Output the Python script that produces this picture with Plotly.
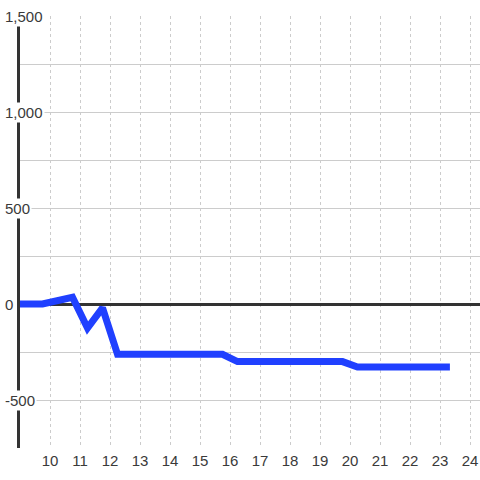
import plotly.graph_objects as go

# Data
x_vals = [9, 9.75, 10.75, 11.25, 11.75, 12.25, 15.75, 16.25, 19.75, 20.25, 23.33]
y_vals = [0, 0, 35, -125, -20, -262, -262, -300, -300, -328, -328]

y_label_vals = [1500, 1000, 500, 0, -500]
y_label_text = ["1,500", "1,000", "500", "0", "-500"]
x_tick_vals = list(range(10, 25))

FONT = "Liberation Sans, Arial, sans-serif"
TXT = "#3a3a3a"

fig = go.Figure()
fig.add_trace(go.Scatter(
    x=x_vals, y=y_vals, mode="lines",
    line=dict(color="#2040ff", width=7),
    hoverinfo="skip", showlegend=False,
))

annotations = []
for v, t in zip(y_label_vals, y_label_text):
    annotations.append(dict(
        x=0, xref="paper", xanchor="left", xshift=-17,
        y=v, yref="y", yanchor="middle",
        text=t, showarrow=False, align="left",
        font=dict(family=FONT, size=15, color=TXT),
        bgcolor="white", borderpad=1,
    ))

fig.update_layout(
    template="none",
    width=480, height=480, autosize=False,
    margin=dict(l=20, r=0, t=16, b=32),
    paper_bgcolor="white", plot_bgcolor="white",
    annotations=annotations,
    xaxis=dict(
        range=[9, 24.3333], tickmode="array", tickvals=x_tick_vals,
        ticktext=[str(v) for v in x_tick_vals],
        showgrid=True, gridcolor="#cccccc", gridwidth=1, griddash="3px,3px",
        zeroline=False, showline=False, ticks="", automargin=False,
        ticklabelstandoff=2,
        tickfont=dict(family=FONT, size=15, color=TXT),
    ),
    yaxis=dict(
        range=[-750, 1500], tick0=0, dtick=250,
        showgrid=True, gridcolor="#cccccc", gridwidth=1,
        zeroline=True, zerolinecolor="#333333", zerolinewidth=3,
        showline=True, linecolor="#333333", linewidth=3,
        showticklabels=False, ticks="", automargin=False,
    ),
)

fig.write_html(
    "out.html",
    config={"displayModeBar": False},
    post_script="document.body.style.margin='0';document.body.style.overflow='hidden';",
)
